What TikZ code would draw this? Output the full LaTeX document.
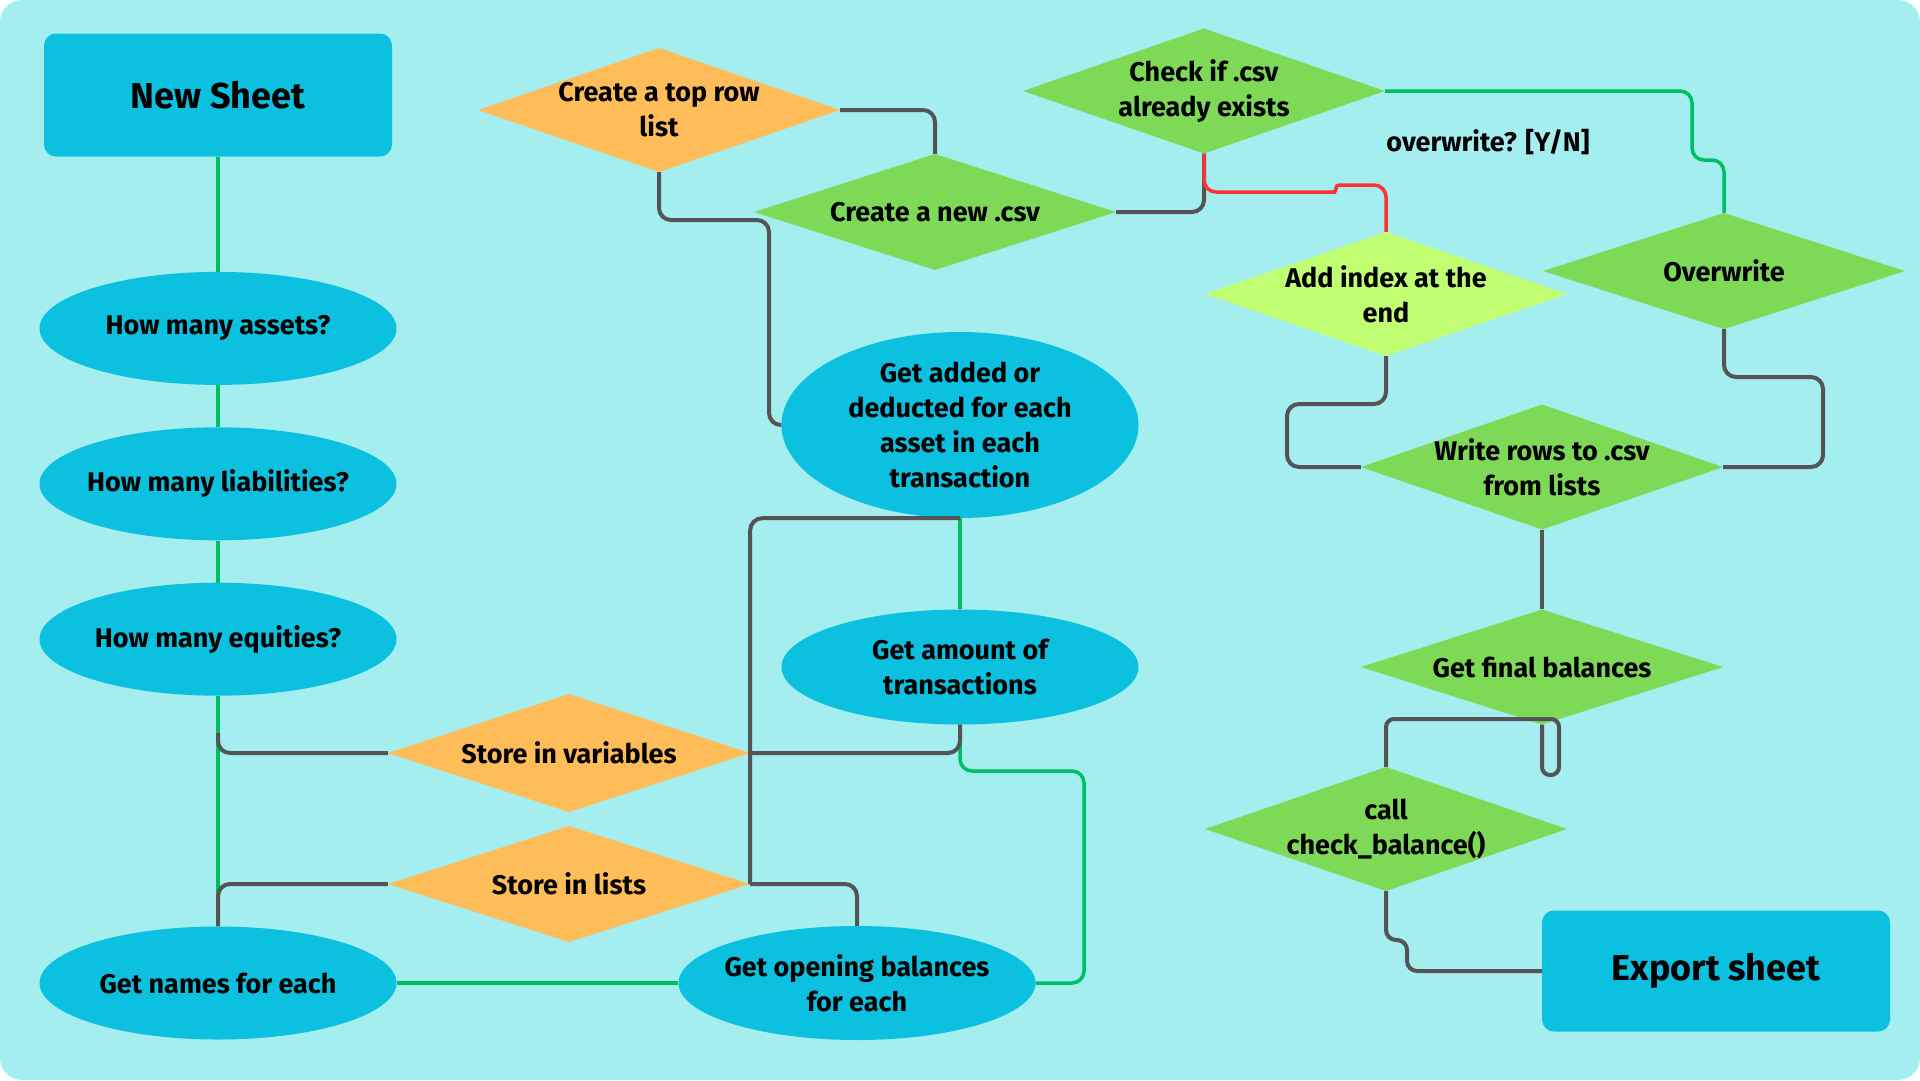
\documentclass[tikz,border=0pt]{standalone}
\usepackage{fontspec}
\setmainfont{Fira Sans}
\usetikzlibrary{shapes.geometric,positioning}
\definecolor{bgcyan}{HTML}{A4EEF0}
\definecolor{nodeblue}{HTML}{0CC0DF}
\definecolor{nodeorange}{HTML}{FFBD59}
\definecolor{nodegreen}{HTML}{7ED957}
\definecolor{nodelime}{HTML}{C1FF72}
\definecolor{linegreen}{HTML}{00BF63}
\definecolor{linered}{HTML}{FF3131}
\definecolor{linegray}{HTML}{545454}

\begin{document}
\begin{tikzpicture}[x=1pt,y=-1pt,node distance=42pt,
  txt/.style={font=\bfseries\fontsize{27}{35}\selectfont,align=center,inner sep=0pt},
  oval/.style={txt,ellipse,fill=nodeblue,minimum width=357pt,minimum height=113pt,
    inner xsep=-30pt,inner ysep=-12pt},
  term/.style={txt,rounded corners=12pt,fill=nodeblue,minimum width=348pt,minimum height=123pt,
    font=\bfseries\fontsize{36}{40}\selectfont},
  dia/.style={txt,minimum width=362pt,minimum height=120pt,
    path picture={\fill[#1] (path picture bounding box.north) -- (path picture bounding box.east)
      -- (path picture bounding box.south) -- (path picture bounding box.west) -- cycle;}},
  conn/.style={line width=3.5pt,rounded corners=12pt},
  gline/.style={conn,draw=linegreen}, kline/.style={conn,draw=linegray,line width=4pt},
  rline/.style={conn,draw=linered}]
  \useasboundingbox (0,0) rectangle (1920,1080);
  \fill[white] (0,0) rectangle (1920,1080);
  \fill[bgcyan,rounded corners=22pt] (0,0) rectangle (1920,1080);
  % left column
  \node[term] (ns) at (218,95) {New Sheet};
  \node[oval,below=115pt of ns] (assets) {How many assets?};
  \node[oval,below=of assets] (liab) {How many liabilities?};
  \node[oval,below=of liab] (equ) {How many equities?};
  \node[oval] (names) at (218,983) {Get names for each};
  \coordinate (split) at (218,733);
  % middle
  \node[dia=nodeorange,minimum height=118pt] (storevar) at (569,753) {Store in variables};
  \node[dia=nodeorange,minimum height=116pt] (storelist) at (569,884) {Store in lists};
  \node[oval,minimum height=114pt] (open) at (857,983) {Get opening balances\\for each};
  \node[oval,minimum height=115pt] (amount) at (960,667) {Get amount of\\transactions};
  \node[oval,minimum height=186pt] (added) at (960,425) {Get added or\\deducted for each\\asset in each\\transaction};
  \node[dia=nodeorange,minimum height=124pt] (toprow) at (659,110) {Create a top row\\list};
  \node[dia=nodegreen,minimum height=116pt] (newcsv) at (935,212) {Create a new .csv};
  % right
  \node[dia=nodegreen,minimum height=125pt] (check) at (1204,91) {Check if .csv\\already exists};
  \node[txt] (ask) at (1488,142) {overwrite? [Y/N]};
  \node[dia=nodelime,minimum height=124pt] (addidx) at (1386,294) {Add index at the\\end};
  \node[dia=nodegreen,minimum height=116pt] (over) at (1724,271) {Overwrite};
  \node[dia=nodegreen,minimum height=125pt] (write) at (1542,467) {Write rows to .csv\\from lists};
  \node[dia=nodegreen,minimum height=115pt] (final) at (1542,667) {Get final balances};
  \node[dia=nodegreen,minimum height=124pt] (call) at (1386,829) {call\\check\_balance()};
  \node[term,minimum height=121pt] (export) at (1716,971) {Export sheet};
  % green links
  \draw[gline] (ns) -- (assets);
  \draw[gline] (assets) -- (liab);
  \draw[gline] (liab) -- (equ);
  \draw[gline] (equ) -- (names);
  \draw[gline] (names) -- (open);
  \draw[gline] (open.east) -| (1084,771) -| (amount.south);
  \draw[gline] (amount) -- (added);
  \draw[gline] (check.east) -| (1692,160) -| (over.north);
  % gray links
  \draw[kline] (split) |- (storevar.west);
  \draw[kline] (storevar.east) -| (amount.south);
  \draw[kline] (added.south) -| (storelist.east);
  \draw[kline] (storelist.east) -| (open.north);
  \draw[kline] (storelist.west) -| (names.north);
  \draw[kline] (toprow.east) -| (newcsv.north);
  \draw[kline] (toprow.south) |- (769,220) |- (added.west);
  \draw[kline] (newcsv.east) -| (check.south);
  \draw[kline] (addidx.south) |- (1287,404) |- (write.west);
  \draw[kline] (over.south) |- (1823,377) |- (write.east);
  \draw[kline] (write) -- (final);
  \draw[kline,rounded corners=8pt] (final.south) -- (1542,775) -- (1559,775) -- (1559,719) -| (call.north);
  \draw[kline,rounded corners=10pt] (call.south) -- (1386,940) -- (1407,940) |- (export.west);
  % red link
  \draw[rline] (check.south) |- (1324,192) [rounded corners=3pt] -- (1336,192) -- (1336,185) -- (1348,185)
    [rounded corners=12pt] -| (addidx.north);
\end{tikzpicture}
\end{document}
